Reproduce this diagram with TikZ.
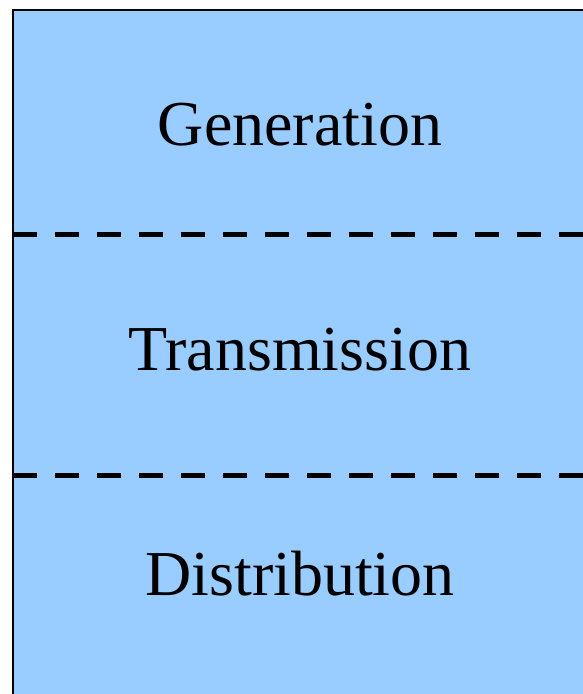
\documentclass[tikz,border=0pt]{standalone}
\usepackage{fontspec}
\setmainfont{Liberation Serif}
\definecolor{layerblue}{HTML}{99CCFF}
\tikzset{
  layerbox/.style={draw=black, line width=2pt, fill=layerblue},
  sep/.style={draw=black, line width=5pt, dash pattern=on 24pt off 18pt},
  lbl/.style={anchor=base, font=\fontsize{64}{70}\selectfont, inner sep=0pt}
}
\begin{document}
\begin{tikzpicture}[x=1pt,y=-1pt]
\useasboundingbox (0,0) rectangle (582,694);
\path[layerbox] (13,10) rectangle (600,720);
\coordinate (s1a) at (13,234); \coordinate (s1b) at (600,234);
\coordinate (s2a) at (13,475); \coordinate (s2b) at (600,475);
\draw[sep] (s1a) -- (s1b);
\draw[sep] (s2a) -- (s2b);
\node[lbl] (gen) at (300,145) {Generation};
\node[lbl] (tra) at (300,370) {Transmission};
\node[lbl] (dis) at (300,595) {Distribution};
\end{tikzpicture}
\end{document}
